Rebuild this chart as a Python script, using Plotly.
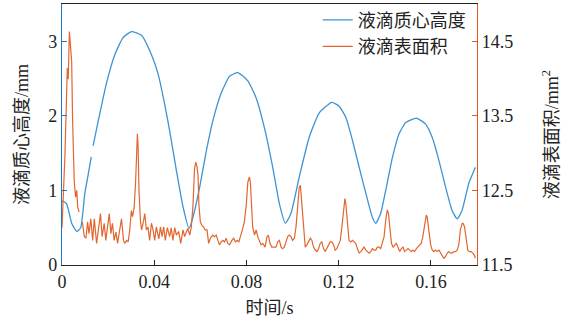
import plotly.graph_objects as go

# ---- data ----
t_height = [0.0, 0.002, 0.0042, 0.0064, 0.0081, 0.0099, 0.0114, 0.0127, 0.0131, 0.0135, 0.0157,
            0.0193, 0.0229, 0.0265, 0.0301, 0.0345, 0.0388, 0.0417, 0.0445, 0.0467, 0.0496,
            0.0525, 0.0551, 0.0568, 0.0597, 0.0626, 0.0654, 0.0691, 0.0727, 0.0762, 0.0806,
            0.0842, 0.0878, 0.0914, 0.0943, 0.0969, 0.0993, 0.1029, 0.1072, 0.1116, 0.117,
            0.1202, 0.1231, 0.126, 0.1289, 0.1318, 0.1346, 0.1361, 0.1382, 0.1404, 0.1433,
            0.1462, 0.1491, 0.1537, 0.1577, 0.1606, 0.1635, 0.1664, 0.1692, 0.1714, 0.1735,
            0.1764, 0.1793]
height_mm = [0.86, 0.82, 0.56, 0.45, 0.5, 0.96, 1.22, 1.45, None, 1.6, 1.93,
             2.44, 2.82, 3.05, 3.13, 3.08, 2.82, 2.56, 2.16, 1.8, 1.27,
             0.78, 0.49, 0.64, 1.04, 1.53, 1.93, 2.31, 2.53, 2.58, 2.47,
             2.24, 1.84, 1.31, 0.82, 0.56, 0.69, 1.18, 1.71, 2.04, 2.18,
             2.13, 1.98, 1.67, 1.31, 0.96, 0.64, 0.56, 0.69, 1.0, 1.44,
             1.76, 1.91, 1.97, 1.89, 1.71, 1.4, 1.04, 0.73, 0.62, 0.73,
             1.09, 1.31]

t_area = [0.0, 0.0013, 0.0023, 0.0027, 0.0032, 0.0035, 0.0038, 0.0042, 0.0046, 0.0053,
          0.0059, 0.0064, 0.0068, 0.0074, 0.0081,
          0.0088, 0.0097, 0.0104, 0.0111, 0.0117, 0.0125, 0.0133, 0.014, 0.015, 0.016,
          0.0167, 0.0174, 0.0183, 0.019, 0.0196, 0.0205, 0.0212, 0.0219, 0.0226, 0.0234,
          0.0241, 0.0248, 0.0258, 0.0267, 0.0272, 0.028, 0.0287, 0.0294, 0.0301, 0.0306,
          0.0313, 0.0319, 0.0324, 0.0327, 0.033, 0.0334, 0.034, 0.0345,
          0.0352, 0.0359, 0.0366, 0.0373, 0.038, 0.0388, 0.0395, 0.0402, 0.0409, 0.042,
          0.0427, 0.0434, 0.0441, 0.0448, 0.0457, 0.0467, 0.0474, 0.0481, 0.0489, 0.0496,
          0.0506, 0.0515, 0.0525,
          0.0532, 0.0539, 0.0546, 0.0554, 0.0561, 0.0568, 0.0575, 0.058, 0.0585, 0.059,
          0.0594, 0.06, 0.0607, 0.0614, 0.0621, 0.0629, 0.0636, 0.0644, 0.0654, 0.0662,
          0.0669, 0.0676, 0.0683, 0.069, 0.0698, 0.0705, 0.0712, 0.0719, 0.0727, 0.0737,
          0.0745, 0.0752, 0.076, 0.0767, 0.0777, 0.0784, 0.0791, 0.0799, 0.0806, 0.0813,
          0.0817, 0.0823, 0.0827, 0.0835, 0.0842, 0.0849, 0.0856, 0.0863, 0.0871, 0.0881,
          0.0889, 0.0895, 0.0902, 0.091, 0.0918, 0.0928, 0.0936, 0.0943, 0.095, 0.0957,
          0.0964, 0.0972, 0.0979, 0.0986, 0.0993,
          0.1, 0.1008, 0.1015, 0.1022, 0.1029, 0.1034, 0.1038, 0.1044, 0.1051, 0.1055,
          0.1062, 0.107, 0.1077, 0.1084, 0.1091, 0.1098, 0.1106, 0.1113, 0.112, 0.1127,
          0.1134, 0.1142, 0.1149, 0.1156, 0.1163, 0.1171, 0.1178, 0.1185, 0.1192, 0.1199,
          0.1207, 0.1214, 0.1221, 0.1227, 0.1231, 0.1238, 0.1245, 0.1253, 0.126, 0.1267,
          0.1274, 0.1281, 0.1289, 0.1296, 0.1303, 0.131, 0.1318, 0.1325, 0.1332, 0.1339,
          0.1346, 0.1354, 0.1361, 0.1368, 0.1375, 0.1382, 0.139, 0.1397,
          0.1404, 0.1411, 0.1416, 0.1423, 0.1429, 0.1436, 0.1443, 0.145, 0.1457, 0.1465,
          0.1472, 0.1479, 0.1486, 0.1493, 0.1501, 0.1508, 0.1515, 0.1522, 0.1529, 0.1537,
          0.1544, 0.1551, 0.1558, 0.1565, 0.1573, 0.158, 0.1584, 0.1591, 0.1599, 0.1606,
          0.1613, 0.162, 0.1627, 0.1635, 0.1642, 0.1649, 0.1656, 0.1663, 0.1671, 0.1678,
          0.1685, 0.1692, 0.17, 0.1707, 0.1714, 0.1721, 0.1728, 0.1736, 0.174, 0.1746,
          0.1753, 0.176, 0.1767, 0.1774, 0.1782, 0.1789, 0.1793]
area_mm2 = [12.0, 12.99, 14.14, 13.99, 14.63, 14.5, 14.5, 14.23, 13.43, 12.63,
            12.41, 12.5, 12.28, 12.21, None,
            12.08, 11.88, 11.86, 12.08, 11.92, 12.12, 11.83, 12.12, 11.79, 12.08,
            12.19, 11.88, 12.06, 11.83, 12.01, 12.19, 11.92, 12.06, 11.83, 11.94,
            11.79, 11.92, 12.12, 11.83, 11.79, 11.83, 11.81, 11.97, 12.23, 12.15,
            12.27, 12.6, 13.2, 13.26, 13.1, 12.5, 12.1, 11.97,
            12.06, 12.19, 11.97, 12.01, 11.83, 12.06, 11.97, 11.83, 12.01, 11.85,
            12.01, 11.88, 12.01, 11.83, 12.0, 11.88, 12.0, 11.83, 12.0, 11.9,
            11.95, 11.79, 11.97,
            11.88, 11.94, 11.99, 11.9, 12.01, 12.3, 12.79, 12.88, 12.83, 12.7,
            12.3, 12.08, 12.03, 12.01, 11.97, 11.97, 11.79, 11.86, 11.9, 11.88,
            11.9, 11.83, 11.77, 11.81, 11.83, 11.81, 11.86, 11.79, 11.77, 11.83,
            11.86, 11.81, 11.83, 11.81, 11.9, 11.99, 12.08, 12.3, 12.61, 12.68,
            12.61, 12.3, 12.01, 11.9, 11.97, 11.88, 11.81, 11.77, 11.79, 11.74,
            11.88, 11.9, 11.79, 11.74, 11.74, 11.74, 11.81, 11.83, 11.74, 11.72,
            11.74, 11.81, 11.88, 11.9, 11.88,
            11.83, 11.86, 12.01, 12.32, 12.54, 12.57, 12.41, 12.1, 11.88, 11.74,
            11.77, 11.81, 11.86, 11.83, 11.74, 11.7, 11.68, 11.72, 11.79, 11.81,
            11.72, 11.68, 11.72, 11.77, 11.81, 11.81, 11.77, 11.7, 11.72, 11.77,
            11.83, 12.01, 12.23, 12.39, 12.32, 12.06, 11.83, 11.81, 11.83, 11.81,
            11.79, 11.72, 11.66, 11.68, 11.72, 11.74, 11.7, 11.68, 11.66, 11.68,
            11.72, 11.7, 11.7, 11.74, 11.74, 11.72, 11.79, 11.88,
            12.1, 12.24, 12.19, 11.97, 11.79, 11.74, 11.77, 11.79, 11.74, 11.68,
            11.72, 11.74, 11.68, 11.7, 11.72, 11.7, 11.68, 11.7, 11.68, 11.72,
            11.74, 11.77, 11.79, 11.88, 12.06, 12.17, 12.14, 11.97, 11.77, 11.7,
            11.68, 11.7, 11.68, 11.7, 11.66, 11.63, 11.59, 11.61, 11.66, 11.68,
            11.66, 11.66, 11.68, 11.68, 11.7, 11.77, 11.97, 12.06, 12.06, 12.01,
            11.83, 11.7, 11.68, 11.68, 11.66, 11.63, 11.59]

x_ticks = [0, 0.04, 0.08, 0.12, 0.16]
x_ticklabels = ["0", "0.04", "0.08", "0.12", "0.16"]
y1_ticks = [0, 1, 2, 3]
y2_ticks = [11.5, 12.5, 13.5, 14.5]
y2_ticklabels = ["11.5", "12.5", "13.5", "14.5"]

series_names = ["液滴质心高度", "液滴表面积"]
axis_titles = ["时间/s", "液滴质心高度/mm", "液滴表面积/mm<sup>2</sup>"]

BLUE = "#3d93d4"
ORANGE = "#e2662f"
AX_BLUE = "#1f78c4"
AX_ORANGE = "#dd5a22"
FONT = "Liberation Serif, Noto Sans CJK SC, serif"

fig = go.Figure()
fig.add_trace(go.Scatter(x=t_height, y=height_mm, mode="lines", name=series_names[0],
                         line=dict(color=BLUE, width=1.3, shape="spline", smoothing=0.5),
                         connectgaps=False, yaxis="y"))
fig.add_trace(go.Scatter(x=t_area, y=area_mm2, mode="lines", name=series_names[1],
                         line=dict(color=ORANGE, width=1.2),
                         connectgaps=False, yaxis="y2"))

fig.update_layout(
    width=562, height=324,
    margin=dict(l=62, r=85, t=3, b=59),
    paper_bgcolor="white", plot_bgcolor="white",
    font=dict(family=FONT, size=18, color="#222222"),
    showlegend=True,
    legend=dict(x=0.985, y=1.005, xanchor="right", yanchor="top",
                bgcolor="rgba(0,0,0,0)", borderwidth=0,
                font=dict(size=18, family=FONT), tracegroupgap=0, itemwidth=30),
    xaxis=dict(range=[0, 0.18], tickvals=x_ticks, ticktext=x_ticklabels, automargin=False,
               ticks="inside", ticklen=5, tickcolor="#222222", showgrid=False, zeroline=False,
               showline=True, linecolor="#222222", linewidth=1, mirror=True,
               title=dict(text=axis_titles[0], standoff=10, font=dict(size=18))),
    yaxis=dict(range=[0, 3.5], tickvals=y1_ticks, ticks="inside", ticklen=5, automargin=False,
               tickcolor=AX_BLUE, showgrid=False, zeroline=False,
               showline=True, linecolor=AX_BLUE, linewidth=1.2,
               title=dict(text=axis_titles[1], standoff=14, font=dict(size=18))),
    yaxis2=dict(range=[11.5, 15.0], tickvals=y2_ticks, ticktext=y2_ticklabels, automargin=False,
                ticks="inside", ticklen=5, tickcolor=AX_ORANGE, showgrid=False, zeroline=False,
                showline=True, linecolor=AX_ORANGE, linewidth=1.2,
                overlaying="y", side="right",
                title=dict(text=axis_titles[2], standoff=36, font=dict(size=18))),
)

fig.write_html("out.html", config={"displayModeBar": False},
               post_script="document.body.style.margin='0px';")
